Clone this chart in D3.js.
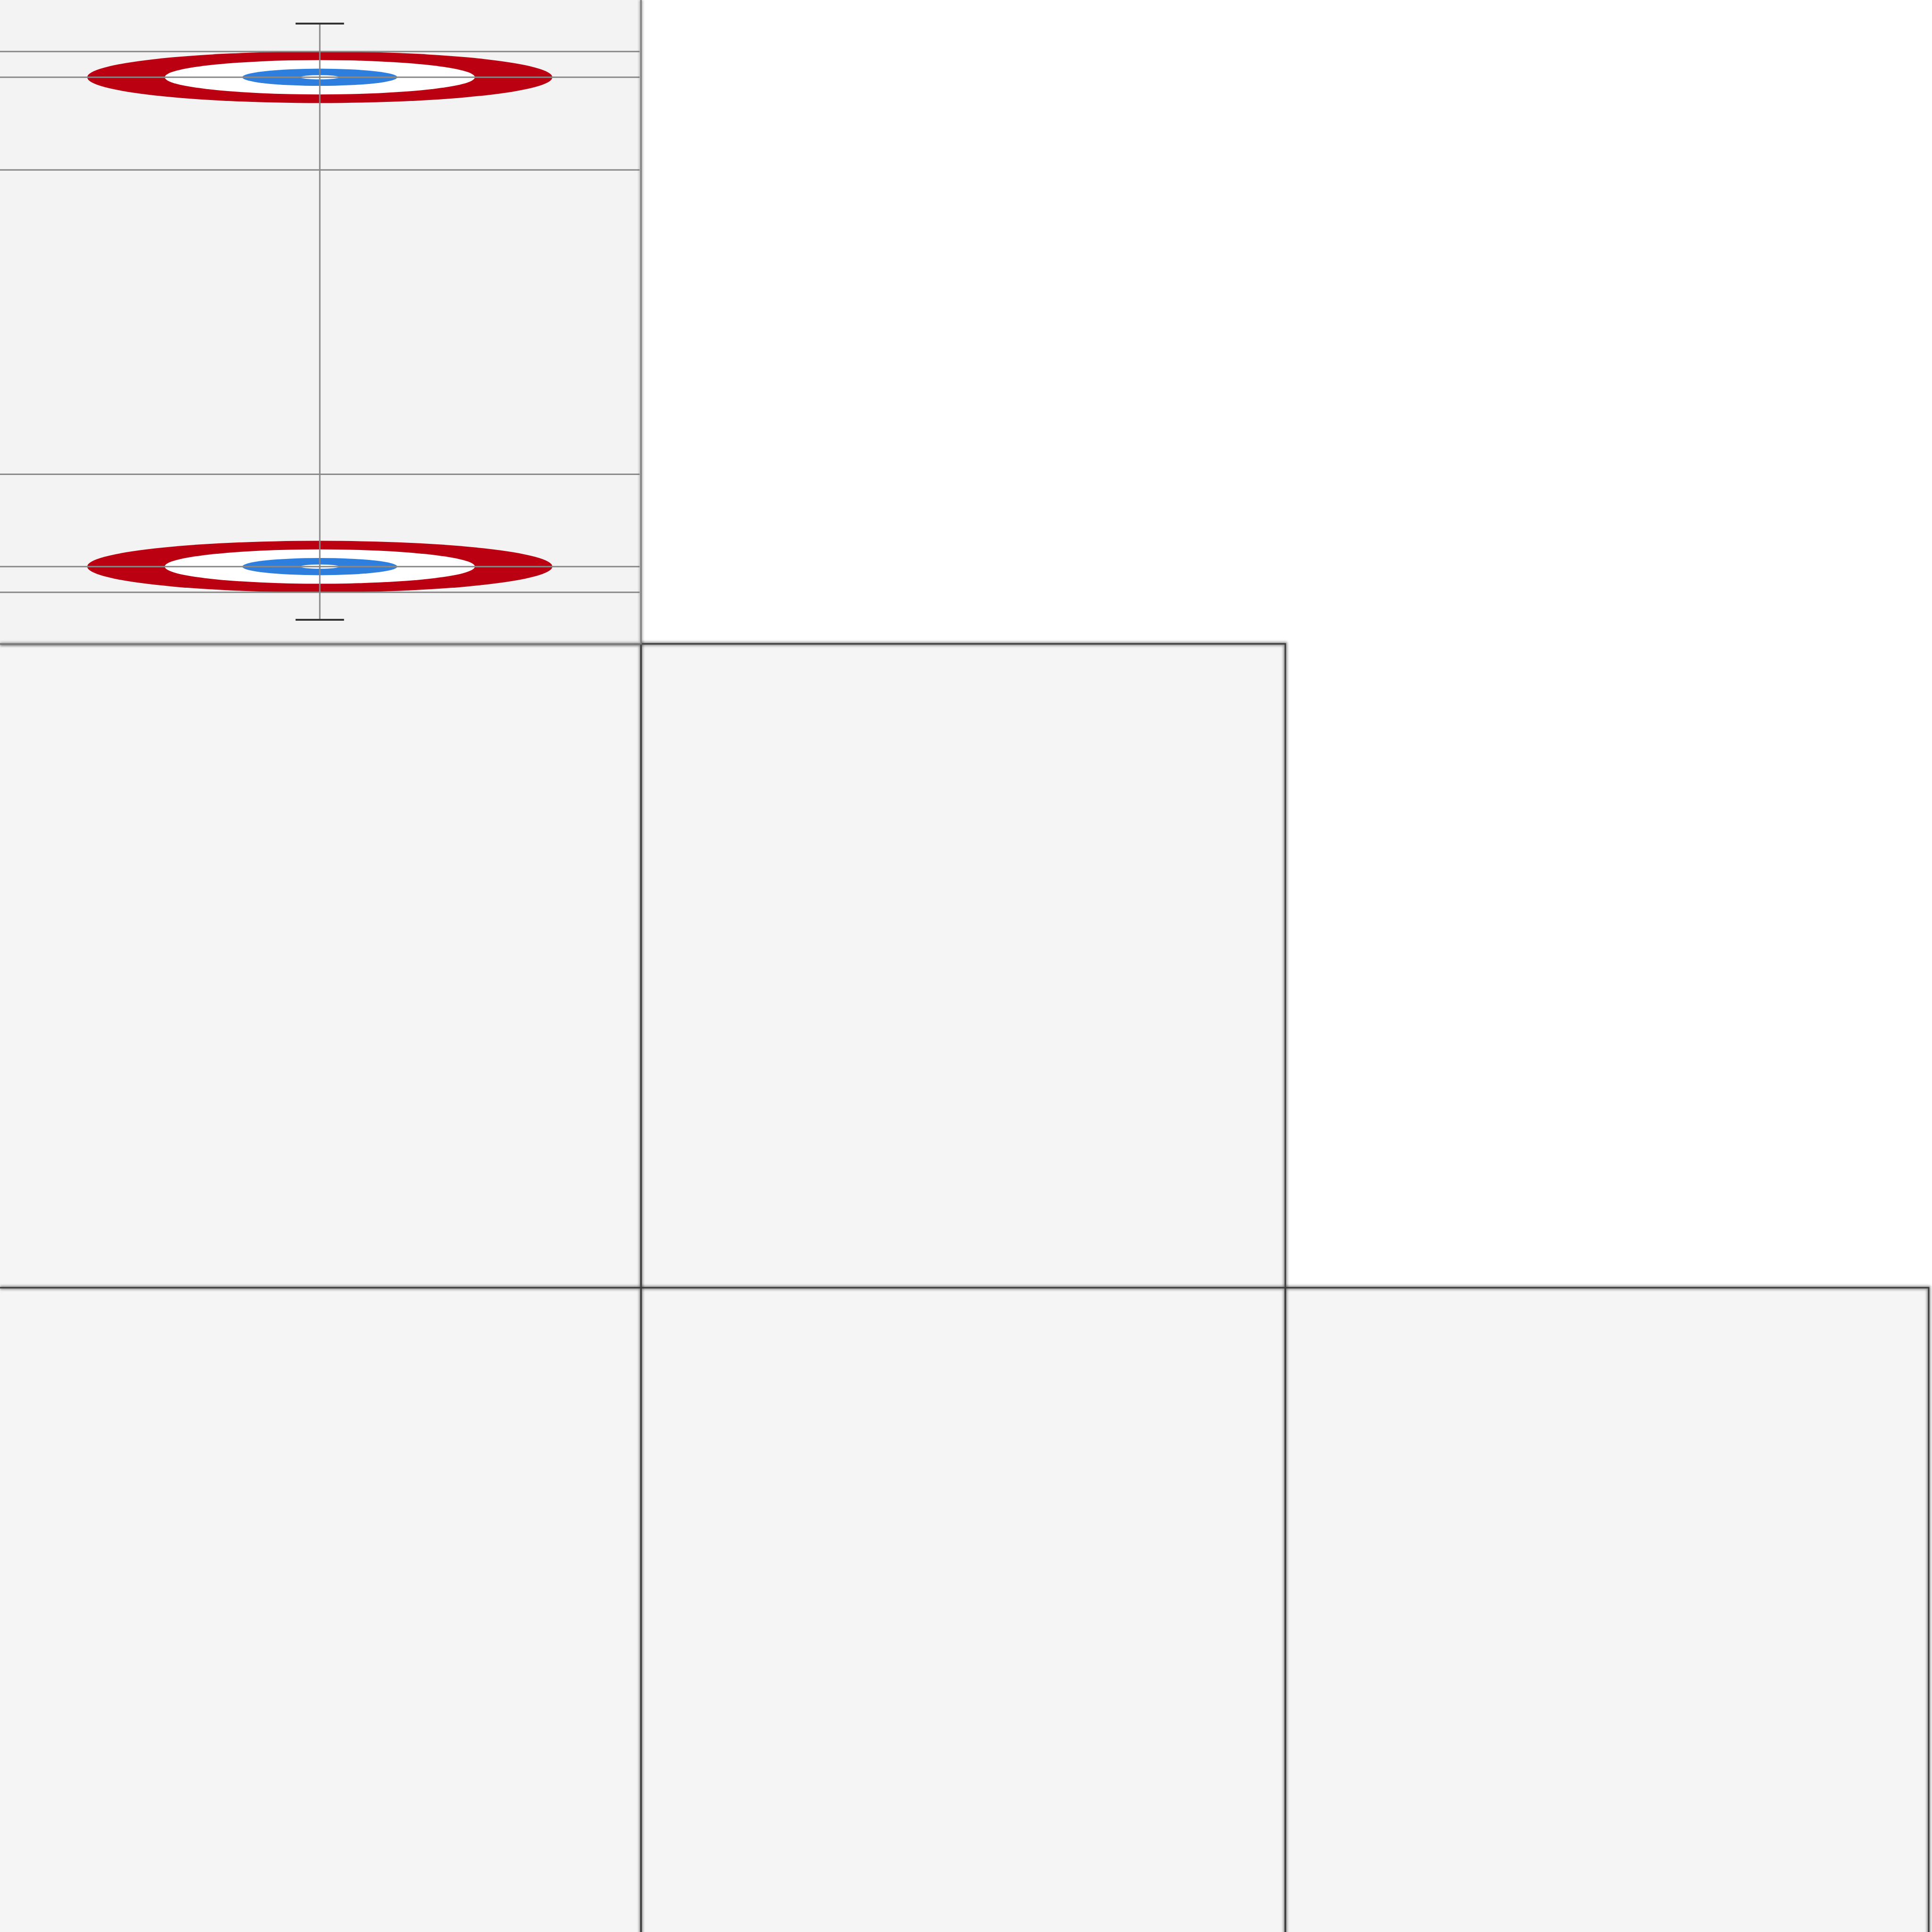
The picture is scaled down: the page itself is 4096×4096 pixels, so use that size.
<!DOCTYPE html>
<html>
<head>
<meta charset="utf-8">
<script src="https://cdn.jsdelivr.net/npm/d3@7"></script>
<style>
html,body{margin:0;padding:0;background:#fff;}
svg{display:block;}
</style>
</head>
<body>
<script>
// ---- data (feet) ----
const sheetWidth = 16.5;
const sheetLength = 150;
const centerX = 8.25;
const houseCenters = [18, 132];
const ringRadii = [6, 4, 2, 0.5];
const ringColors = ["#bb0011", "#ffffff", "#2e7fdd", "#ffffff"];
const teeLines = [18, 132];
const backLines = [12, 138];
const hogLines = [39.6, 110.5];
const hackPositions = [5.5, 144.4];
const hackHalfWidth = 0.625;
// facet grid: which cells hold a panel [row, col]
const panelCells = [[1,0],[1,1],[2,0],[2,1],[2,2]];
const gridCols = [0, 1359, 2725, 4089];
const gridRows = [0, 1365, 2730, 4116];

const W = 4096, H = 4096;
const svg = d3.select("body").append("svg").attr("width", W).attr("height", H);

const defs = svg.append("defs");
const f = defs.append("filter").attr("id","blur").attr("x","-5%").attr("y","-5%").attr("width","110%").attr("height","110%");
f.append("feGaussianBlur").attr("stdDeviation", 2.5);

const colScale = d3.scaleOrdinal().domain([0,1,2,3]).range(gridCols);
const rowScale = d3.scaleOrdinal().domain([0,1,2,3]).range(gridRows);

svg.append("rect").attr("width",W).attr("height",H).attr("fill","#ffffff");

// empty facet panels
const pg = svg.append("g");
panelCells.forEach(([r,c]) => {
  const x0 = colScale(c), x1 = colScale(c+1);
  const y0 = rowScale(r), y1 = rowScale(r+1);
  pg.append("rect").attr("x",x0).attr("y",y0).attr("width",x1-x0).attr("height",y1-y0)
    .attr("fill","#f5f5f5");
});
panelCells.forEach(([r,c]) => {
  const x0 = colScale(c), x1 = colScale(c+1);
  const y0 = rowScale(r), y1 = rowScale(r+1);
  const path = `M${x0},${y0}H${x1}V${y1}`;
  pg.append("path").attr("d",path).attr("fill","none").attr("stroke","#444").attr("stroke-width",8).attr("opacity",0.55).attr("filter","url(#blur)");
  pg.append("path").attr("d",path).attr("fill","none").attr("stroke","#3a3a3a").attr("stroke-width",3);
  if (c>0) {
    pg.append("line").attr("x1",x0).attr("x2",x0).attr("y1",y0).attr("y2",y1)
      .attr("stroke","#444").attr("stroke-width",8).attr("opacity",0.55).attr("filter","url(#blur)");
    pg.append("line").attr("x1",x0).attr("x2",x0).attr("y1",y0).attr("y2",y1)
      .attr("stroke","#3a3a3a").attr("stroke-width",3);
  }
});

// curling sheet panel
const px0 = 0, px1 = colScale(1), py0 = 0, py1 = rowScale(1);
const x = d3.scaleLinear().domain([0, sheetWidth]).range([px0, px1 - 3]);
const y = d3.scaleLinear().domain([0, sheetLength]).range([py0, py1]);

const sheet = svg.append("g");
sheet.append("rect").attr("x",px0).attr("y",py0).attr("width",px1-px0).attr("height",py1-py0).attr("fill","#f3f3f3");

// houses
houseCenters.forEach(hc => {
  ringRadii.forEach((r,i) => {
    sheet.append("ellipse")
      .attr("cx", x(centerX)).attr("cy", y(hc))
      .attr("rx", x(r) - x(0)).attr("ry", y(r) - y(0))
      .attr("fill", ringColors[i]);
  });
});

const lineStyle = s => s.attr("stroke","#888").attr("stroke-width",3);
[...teeLines, ...backLines, ...hogLines].forEach(v => {
  sheet.append("line").attr("x1", x(0)).attr("x2", x(sheetWidth))
    .attr("y1", y(v)).attr("y2", y(v)).call(lineStyle);
});
// centre line
sheet.append("line").attr("x1", x(centerX)).attr("x2", x(centerX))
  .attr("y1", y(hackPositions[0])).attr("y2", y(hackPositions[1])).call(lineStyle);
// hacks
hackPositions.forEach(h => {
  sheet.append("line").attr("x1", x(centerX - hackHalfWidth)).attr("x2", x(centerX + hackHalfWidth))
    .attr("y1", y(h)).attr("y2", y(h)).attr("stroke","#333").attr("stroke-width",4);
});

// panel border (right & bottom)
const bpath = `M${px1},${py0}V${py1}H${px0}`;
svg.append("path").attr("d",bpath).attr("fill","none").attr("stroke","#666").attr("stroke-width",7).attr("opacity",0.5).attr("filter","url(#blur)");
svg.append("path").attr("d",bpath).attr("fill","none").attr("stroke","#7a7a7a").attr("stroke-width",3);
</script>
</body>
</html>
